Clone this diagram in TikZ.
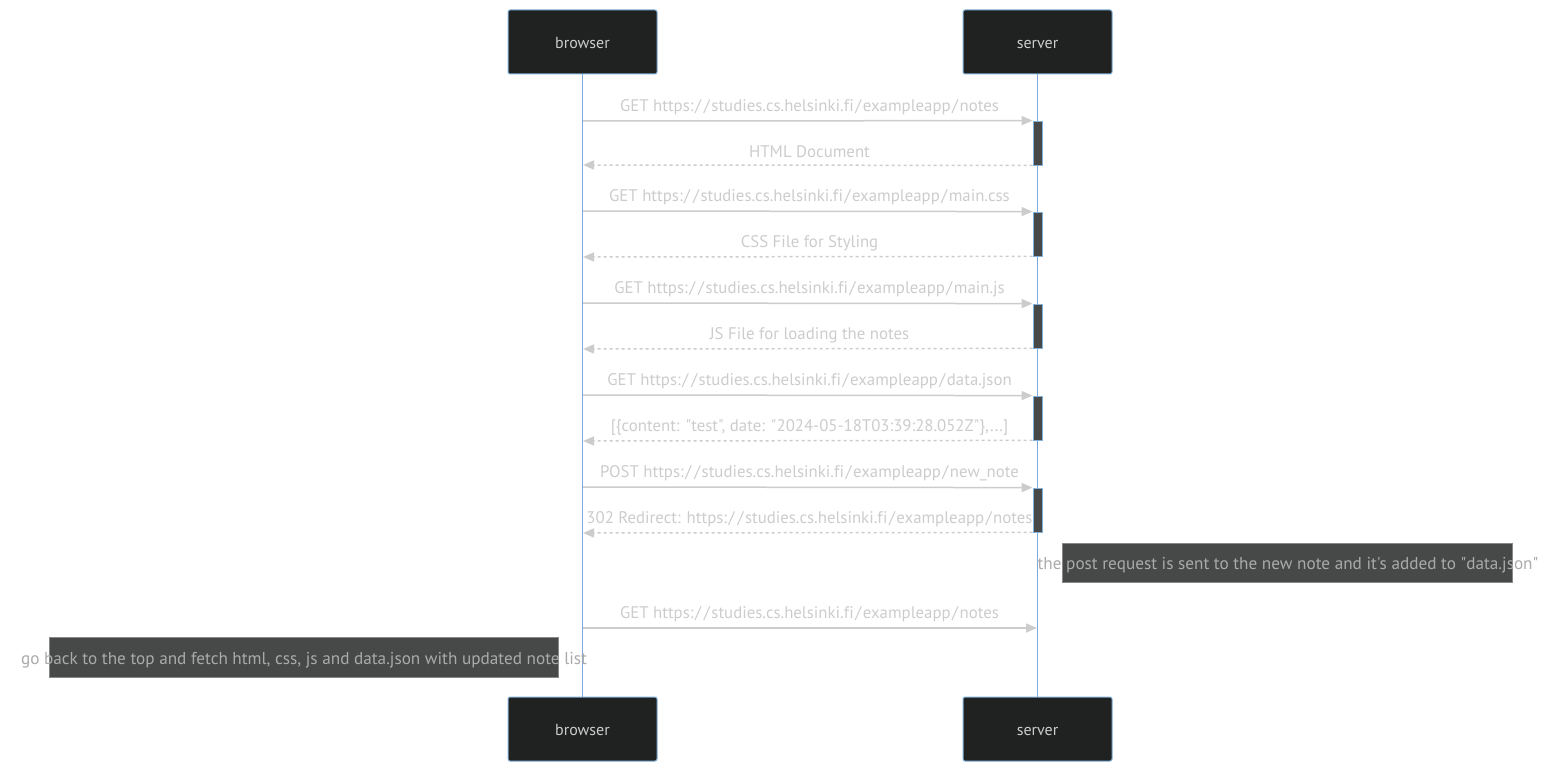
\documentclass[tikz,border=0pt]{standalone}
\usepackage{fontspec}
\setmainfont{PT Sans}[Ligatures={TeXOff,NoCommon}]
\usetikzlibrary{arrows.meta}
\definecolor{actfill}{HTML}{202121}
\definecolor{actborder}{HTML}{81B1DB}
\definecolor{lifeblue}{HTML}{7FAADB}
\definecolor{msgline}{HTML}{CCCCCC}
\definecolor{msgtext}{HTML}{CCCCCC}
\definecolor{actbar}{HTML}{474949}
\definecolor{notefill}{HTML}{474949}
\definecolor{noteborder}{HTML}{888888}
\definecolor{notetext}{HTML}{AAAAAA}
\newcommand\slh{\kern1.5pt/\kern1.5pt}
\newcommand\urlbase{https:\slh\slh studies.cs.helsinki.f\kern0.3pt i\slh exampleapp\slh}
\tikzset{
  actorbox/.style={draw=actborder, line width=1pt, fill=actfill, rounded corners=2pt,
    minimum width=149pt, minimum height=64pt, inner sep=0pt},
  actortext/.style={text=msgtext, inner sep=0pt, anchor=base, font=\fontsize{16}{19}\selectfont},
  lifeline/.style={draw=lifeblue, line width=1.5pt},
  actbarbox/.style={draw=actborder, line width=0.8pt, fill=actbar, minimum width=9pt,
    minimum height=44pt, inner sep=0pt},
  msgarrow/.style={draw=msgline, line width=1.5pt, -{Triangle[length=11pt,width=9pt]}},
  retarrow/.style={msgarrow, dash pattern=on 3pt off 3pt},
  msglabel/.style={text=msgtext, inner sep=0pt, anchor=base, font=\fontsize{16.8}{19}\selectfont},
  notebox/.style={draw=noteborder, line width=0.8pt, fill=notefill, inner sep=0pt},
  notelabel/.style={text=notetext, inner sep=0pt, anchor=base, font=\fontsize{17.2}{19}\selectfont},
}
\begin{document}
\begin{tikzpicture}[x=1pt,y=-1pt]
\useasboundingbox (0,0) rectangle (1562,773);
% actors
\node[actorbox] (btop) at (582.5,42) {};
\node[actorbox] (stop) at (1037.5,42) {};
\node[actorbox] (bbot) at (582.5,729) {};
\node[actorbox] (sbot) at (1037.5,729) {};
\node[actortext] (btopt) at (582.5,48.5) {browser};
\node[actortext] (stopt) at (1037.5,48.5) {server};
\node[actortext] (bbott) at (582.5,735.5) {browser};
\node[actortext] (sbott) at (1037.5,735.5) {server};
% lifelines
\draw[lifeline] (btop.south) -- (bbot.north);
\draw[lifeline] (stop.south) -- (sbot.north);
% activation bars
\node[actbarbox] (a1) at (1037.5,143) {};
\node[actbarbox] (a2) at (1037.5,234) {};
\node[actbarbox] (a3) at (1037.5,326) {};
\node[actbarbox] (a4) at (1037.5,418) {};
\node[actbarbox] (a5) at (1037.5,510) {};
% browser-side points
\coordinate (b1) at (583,121);
\coordinate (b2) at (583,165);
\coordinate (b3) at (583,211);
\coordinate (b4) at (583,257);
\coordinate (b5) at (583,303);
\coordinate (b6) at (583,349);
\coordinate (b7) at (583,395);
\coordinate (b8) at (583,441);
\coordinate (b9) at (583,487);
\coordinate (b10) at (583,533);
\coordinate (b11) at (583,628);
\coordinate (s11) at (1037,628);
% messages
\draw[msgarrow] (b1) -- (a1.north west);
\draw[retarrow] (a1.south west) -- (b2);
\draw[msgarrow] (b3) -- (a2.north west);
\draw[retarrow] (a2.south west) -- (b4);
\draw[msgarrow] (b5) -- (a3.north west);
\draw[retarrow] (a3.south west) -- (b6);
\draw[msgarrow] (b7) -- (a4.north west);
\draw[retarrow] (a4.south west) -- (b8);
\draw[msgarrow] (b9) -- (a5.north west);
\draw[retarrow] (a5.south west) -- (b10);
\draw[msgarrow] (b11) -- (s11);
% labels
\node[msglabel] (l1) at (809.5,111.5) {GET \urlbase notes};
\node[msglabel] (l2) at (809.5,157.5) {HTML Document};
\node[msglabel] (l3) at (809.5,201.5) {GET \urlbase main.css};
\node[msglabel] (l4) at (809.5,247.5) {CSS File for Styling};
\node[msglabel] (l5) at (809.5,293.5) {GET \urlbase main.js};
\node[msglabel] (l6) at (809.5,339.5) {JS File for loading the notes};
\node[msglabel] (l7) at (809.5,385.5) {GET \urlbase data.json};
\node[msglabel] (l8) at (809.5,431.5) {[\{content: "test", date: "2024-05-18T03:39:28.052Z"\},...]};
\node[msglabel] (l9) at (809.5,477.5) {POST \urlbase new\_note};
\node[msglabel] (l10) at (809.5,523.5) {302 Redirect: \urlbase notes};
\node[msglabel] (l11) at (809.5,618.5) {GET \urlbase notes};
% notes
\node[notebox, minimum width=450pt, minimum height=39pt] (n1) at (1287,562.5) {};
\node[notelabel] (n1t) at (1288,569) {the post request is sent to the new note and it's added to "data.json"};
\node[notebox, minimum width=509pt, minimum height=40pt] (n2) at (303.5,657) {};
\node[notelabel] (n2t) at (304,664) {go back to the top and fetch html, css, js and data.json with updated note list};
\end{tikzpicture}
\end{document}
